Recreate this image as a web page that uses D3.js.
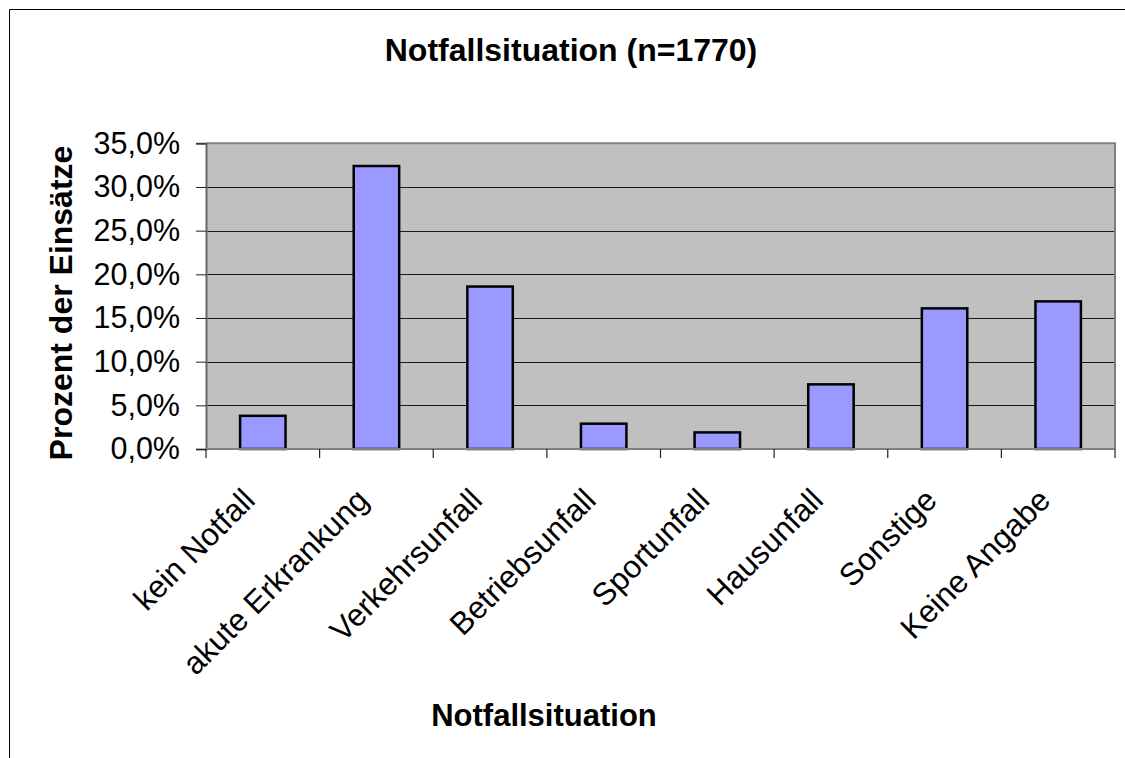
<!DOCTYPE html>
<html><head><meta charset="utf-8">
<script src="https://cdn.jsdelivr.net/npm/d3@7"></script>
<style>
html,body{margin:0;padding:0;background:#fff;}
svg{display:block;font-family:"Liberation Sans",Arial,sans-serif;}
</style></head>
<body>
<svg id="chart" width="1125" height="758"></svg>
<script>
const categories = ["kein Notfall","akute Erkrankung","Verkehrsunfall","Betriebsunfall","Sportunfall","Hausunfall","Sonstige","Keine Angabe"];
const values = [3.8, 32.4, 18.6, 2.9, 1.9, 7.4, 16.1, 16.9];
const yTicks = [0,5,10,15,20,25,30,35];
const title = "Notfallsituation (n=1770)";
const xTitle = "Notfallsituation";
const yTitle = "Prozent der Einsätze";

const svg = d3.select("#chart");
const L = 206, R = 1115, T = 143.3, B = 449;

// outer frame
svg.append("path").attr("d","M9.5,758 L9.5,9.5 L1125,9.5").attr("fill","none").attr("stroke","#000").attr("stroke-width",1);

const x = d3.scaleBand().domain(categories).range([L,R]).paddingInner(0.6).paddingOuter(0.3);
const xb = d3.scaleLinear().domain([0,categories.length]).range([L,R]);
const y = d3.scaleLinear().domain([0,35]).range([B,T]);

svg.append("rect").attr("x",L).attr("y",T).attr("width",R-L).attr("height",B-T).attr("fill","#C0C0C0");

// gridlines
svg.append("g").selectAll("line").data(yTicks.filter(d=>d>0 && d<35)).join("line")
  .attr("x1",L).attr("x2",R).attr("y1",d=>Math.round(y(d))+0.5).attr("y2",d=>Math.round(y(d))+0.5)
  .attr("stroke","#1a1a1a").attr("stroke-width",1);

// plot border top/right
svg.append("path").attr("d",`M${L},${T} L${R},${T} L${R},${B}`).attr("fill","none").attr("stroke","#808080").attr("stroke-width",2);

// bars
svg.append("g").selectAll("rect").data(values).join("rect")
  .attr("x",(d,i)=>x(categories[i])).attr("width",x.bandwidth())
  .attr("y",d=>y(d)).attr("height",d=>B-y(d))
  .attr("fill","#9999FF").attr("stroke","#000").attr("stroke-width",2.5);

// y axis
const yAxis = d3.axisLeft(y).tickValues(yTicks).tickSize(10).tickPadding(16)
  .tickFormat(d=>d3.format(".1f")(d).replace(".",",")+"%");
const gy = svg.append("g").attr("transform",`translate(${L},0)`).call(yAxis);
gy.select(".domain").attr("stroke","#666").attr("stroke-width",2);
gy.selectAll(".tick line").attr("stroke","#222");
gy.selectAll(".tick text").attr("font-size",30.5).attr("fill","#000").attr("font-family","Liberation Sans, Arial, sans-serif");

// x axis line and ticks
svg.append("line").attr("x1",L).attr("x2",R).attr("y1",B).attr("y2",B).attr("stroke","#808080").attr("stroke-width",2);
svg.append("g").selectAll("line").data(d3.range(categories.length+1)).join("line")
  .attr("x1",d=>xb(d)).attr("x2",d=>xb(d)).attr("y1",B).attr("y2",B+9).attr("stroke","#222").attr("stroke-width",1.2);

// x labels
svg.append("g").selectAll("text").data(categories).join("text")
  .attr("transform",d=>`translate(${x(d)+x.bandwidth()/2-6},${B+53}) rotate(-45)`)
  .attr("text-anchor","end").attr("font-size",31.5).attr("fill","#000").text(d=>d);

// titles
svg.append("text").attr("x",571).attr("y",61).attr("text-anchor","middle").attr("font-size",32).attr("font-weight","bold").text(title);
svg.append("text").attr("x",544).attr("y",726).attr("text-anchor","middle").attr("font-size",31).attr("font-weight","bold").text(xTitle);
svg.append("text").attr("transform","translate(72,303) rotate(-90)").attr("text-anchor","middle").attr("font-size",32).attr("font-weight","bold").text(yTitle);
</script>
</body></html>
